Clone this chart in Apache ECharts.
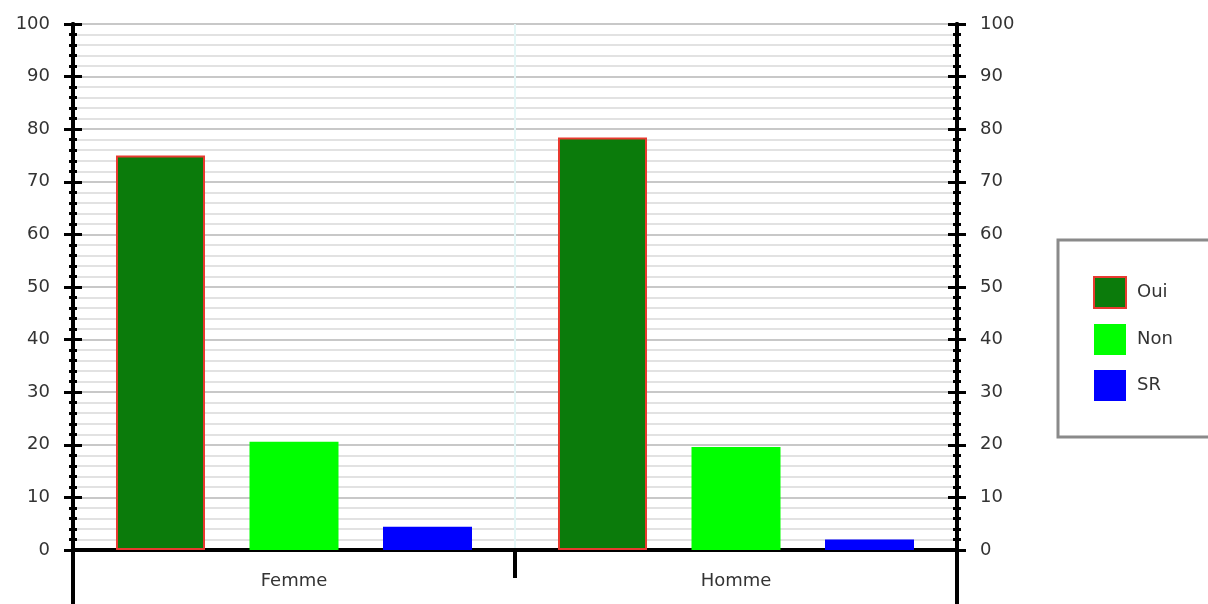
<!DOCTYPE html>
<html>
<head>
<meta charset="utf-8">
<script src="https://cdn.jsdelivr.net/npm/echarts@6/dist/echarts.min.js"></script>
<style>html,body{margin:0;padding:0;background:#fff;}#c{width:1208px;height:604px;}</style>
</head>
<body>
<div id="c"></div>
<script>
const categories = ['Femme', 'Homme'];
const seriesNames = ['Oui', 'Non', 'SR'];
const oui = [75.0, 78.4];
const non = [20.6, 19.6];
const sr = [4.4, 2.0];
const yTicks = { min: 0, max: 100, interval: 10 };

const chart = echarts.init(document.getElementById('c'), null, { renderer: 'canvas' });
const font = 'DejaVu Sans';
const txt = '#333';
const L = 73, R = 1208 - 957, T = 24, B = 604 - 550;

function yAx(pos, inside, labels, main) {
  return {
    type: 'value', gridIndex: 0, position: pos,
    min: yTicks.min, max: yTicks.max, interval: yTicks.interval,
    splitNumber: 10,
    axisLine: { show: true, lineStyle: { color: '#000', width: 4 } },
    axisTick: { show: true, inside: inside, length: 9, lineStyle: { color: '#000', width: 3 } },
    minorTick: { show: true, splitNumber: 5, length: 4, lineStyle: { color: '#000', width: 3 } },
    axisLabel: { show: labels, margin: 23, color: txt, fontFamily: font, fontSize: 18 },
    splitLine: { show: main, lineStyle: { color: '#c8c8c8', width: 2 } },
    minorSplitLine: { show: main, lineStyle: { color: '#e2e2e2', width: 2 } }
  };
}

const option = {
  animation: false,
  backgroundColor: '#fff',
  grid: [
    { left: L, right: R, top: T, bottom: B, containLabel: false },
    { left: L, right: R, top: 604 - B, bottom: 0, containLabel: false }
  ],
  xAxis: [
    {
      type: 'category', gridIndex: 0, data: categories, boundaryGap: true,
      axisLine: { show: true, onZero: false, lineStyle: { color: '#000', width: 4 } },
      axisTick: { show: true, length: 28, lineStyle: { color: '#000', width: 4 } },
      axisLabel: { color: txt, fontFamily: font, fontSize: 18, margin: 22 },
      splitLine: { show: true, lineStyle: { color: '#e4f6f6', width: 2 } }
    },
    { type: 'category', gridIndex: 1, data: categories, show: false }
  ],
  yAxis: [
    yAx('left', false, true, true),
    yAx('left', true, false, false),
    yAx('right', false, true, false),
    yAx('right', true, false, false),
    { type: 'value', gridIndex: 1, position: 'left', min: 0, max: 1,
      axisLine: { show: true, lineStyle: { color: '#000', width: 4 } },
      axisTick: { show: false }, axisLabel: { show: false }, splitLine: { show: false } },
    { type: 'value', gridIndex: 1, position: 'right', min: 0, max: 1,
      axisLine: { show: true, lineStyle: { color: '#000', width: 4 } },
      axisTick: { show: false }, axisLabel: { show: false }, splitLine: { show: false } }
  ],
  legend: {
    orient: 'vertical', left: 1058, top: 240,
    padding: [36, 120, 36, 35],
    borderColor: '#8a8a8a', borderWidth: 3,
    icon: 'rect',
    itemWidth: 32, itemHeight: 31, itemGap: 15,
    textStyle: { color: txt, fontFamily: font, fontSize: 18, padding: [0, 0, 0, 6] },
    data: seriesNames
  },
  series: [
    { name: seriesNames[0], type: 'bar', data: oui, barWidth: 89, barGap: '50%',
      itemStyle: { color: '#0b7b0b', borderColor: '#e83a30', borderWidth: 2 } },
    { name: seriesNames[1], type: 'bar', data: non, barWidth: 89, barGap: '50%',
      itemStyle: { color: '#00ff00' } },
    { name: seriesNames[2], type: 'bar', data: sr, barWidth: 89, barGap: '50%',
      itemStyle: { color: '#0000ff' } }
  ]
};
chart.setOption(option);
</script>
</body>
</html>
